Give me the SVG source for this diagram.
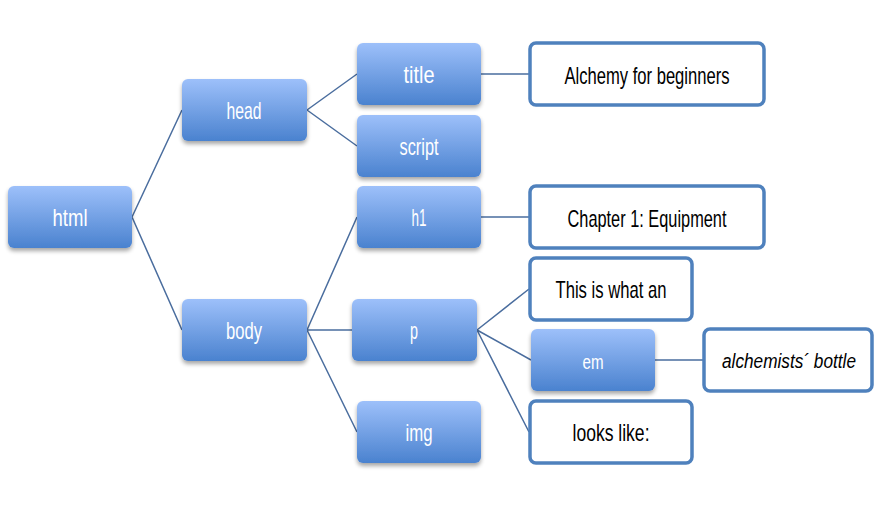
<svg xmlns="http://www.w3.org/2000/svg" width="876" height="506" viewBox="0 0 876 506">
<defs>
<linearGradient id="bg" x1="0" y1="0" x2="0" y2="1">
<stop offset="0" stop-color="#9dc0fa"/>
<stop offset="1" stop-color="#4a82cf"/>
</linearGradient>
<filter id="sh" x="-10%" y="-10%" width="120%" height="140%">
<feGaussianBlur in="SourceAlpha" stdDeviation="2"/>
<feOffset dy="3" result="b"/>
<feComponentTransfer><feFuncA type="linear" slope="0.35"/></feComponentTransfer>
<feMerge><feMergeNode/><feMergeNode in="SourceGraphic"/></feMerge>
</filter>
</defs>
<style>
.b{fill:url(#bg);filter:url(#sh)}
.w{fill:#fff;stroke:#4f81bd;stroke-width:3.5}
.t{font-family:"Liberation Sans",sans-serif;font-size:24px;text-anchor:middle;dominant-baseline:central}
.tw{fill:#fff}
.tk{fill:#000}
.sm{font-size:21px}
.it{font-size:19.5px;font-style:italic}
.c{stroke:#4a6d9e;stroke-width:1.5;fill:none}
</style>
<g id="connectors">
<path class="c" d="M132,217L182,110M132,217L182,330M307,110L357,74M307,110L357,146M307,330L357,217M307,330L352,330M307,330L357,432M481,74L529,74M481,217L529,217M477,330L529,289M477,330L531,360M477,330L529,432M655,360L703,360"/>
</g>
<g id="html"><rect class="b" x="8" y="186" width="124" height="62" rx="6"/><text class="t tw" x="70" y="217" textLength="35" lengthAdjust="spacingAndGlyphs">html</text></g>
<g id="head"><rect class="b" x="182" y="79" width="125" height="62" rx="6"/><text class="t tw" x="244" y="110" textLength="35" lengthAdjust="spacingAndGlyphs">head</text></g>
<g id="body"><rect class="b" x="182" y="299" width="125" height="62" rx="6"/><text class="t tw" x="244" y="330" textLength="36" lengthAdjust="spacingAndGlyphs">body</text></g>
<g id="title"><rect class="b" x="357" y="43" width="124" height="62" rx="6"/><text class="t tw" x="419" y="74" textLength="31" lengthAdjust="spacingAndGlyphs">title</text></g>
<g id="script"><rect class="b" x="357" y="115" width="124" height="62" rx="6"/><text class="t tw" x="419" y="146" textLength="39" lengthAdjust="spacingAndGlyphs">script</text></g>
<g id="h1"><rect class="b" x="357" y="186" width="124" height="62" rx="6"/><text class="t tw" x="419" y="217" textLength="15" lengthAdjust="spacingAndGlyphs">h1</text></g>
<g id="p"><rect class="b" x="352" y="299" width="125" height="62" rx="6"/><text class="t tw" x="414" y="330" textLength="8" lengthAdjust="spacingAndGlyphs">p</text></g>
<g id="img"><rect class="b" x="357" y="401" width="124" height="62" rx="6"/><text class="t tw" x="419" y="432" textLength="27" lengthAdjust="spacingAndGlyphs">img</text></g>
<g id="em"><rect class="b" x="531" y="329" width="124" height="62" rx="6"/><text class="t tw sm" x="593" y="361" textLength="21" lengthAdjust="spacingAndGlyphs">em</text></g>
<g id="alchemy"><rect class="w" x="530" y="43" width="234" height="62" rx="6"/><text class="t tk" x="647" y="75" textLength="165" lengthAdjust="spacingAndGlyphs">Alchemy for beginners</text></g>
<g id="chapter"><rect class="w" x="530" y="186" width="234" height="62" rx="6"/><text class="t tk" x="647" y="218" textLength="159" lengthAdjust="spacingAndGlyphs">Chapter 1: Equipment</text></g>
<g id="thisis"><rect class="w" x="530" y="258" width="162" height="62" rx="6"/><text class="t tk" x="611" y="289" textLength="111" lengthAdjust="spacingAndGlyphs">This is what an</text></g>
<g id="bottle"><rect class="w" x="704" y="329" width="168" height="62" rx="6"/><text class="t tk it" x="789" y="361" textLength="134" lengthAdjust="spacingAndGlyphs">alchemists´ bottle</text></g>
<g id="lookslike"><rect class="w" x="530" y="401" width="162" height="62" rx="6"/><text class="t tk" x="611" y="432" textLength="77" lengthAdjust="spacingAndGlyphs">looks like:</text></g>
</svg>
